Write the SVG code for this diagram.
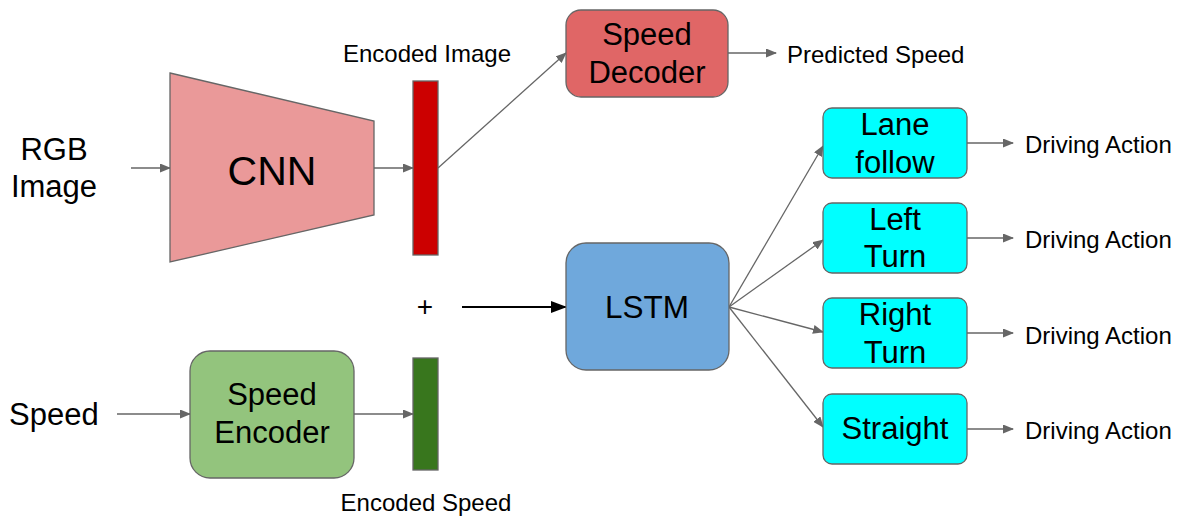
<svg xmlns="http://www.w3.org/2000/svg" width="1185" height="518" viewBox="0 0 1185 518">
<style>
text{font-family:"Liberation Sans",Arial,sans-serif;fill:#000}
.big{font-size:31px;text-anchor:middle}
.lbl{font-size:24px}
.box{stroke:#666;stroke-width:1.3}
.c{fill:none;stroke:#666;stroke-width:1.3}
.cyan{fill:#00ffff}
</style>
<defs>
<marker id="ah" markerWidth="11" markerHeight="9" refX="10" refY="4.5" orient="auto" markerUnits="userSpaceOnUse">
<path d="M0,0 L11,4.5 L0,9 Z" fill="#666"/>
</marker>
<marker id="ahb" markerWidth="16" markerHeight="12" refX="15" refY="6" orient="auto" markerUnits="userSpaceOnUse">
<path d="M0,0 L16,6 L0,12 Z" fill="#000"/>
</marker>
</defs>
<g id="connectors">
<line class="c" x1="131" y1="168" x2="170" y2="168" marker-end="url(#ah)"/>
<line class="c" x1="374" y1="168" x2="413" y2="168" marker-end="url(#ah)"/>
<line class="c" x1="438" y1="168" x2="566" y2="53" marker-end="url(#ah)"/>
<line class="c" x1="728" y1="53" x2="776" y2="53" marker-end="url(#ah)"/>
<line class="c" x1="117" y1="414" x2="190" y2="414" marker-end="url(#ah)"/>
<line class="c" x1="354" y1="414" x2="413" y2="414" marker-end="url(#ah)"/>
<line x1="462" y1="307" x2="566" y2="307" stroke="#000" stroke-width="2" marker-end="url(#ahb)"/>
<line class="c" x1="729" y1="307" x2="823" y2="146" marker-end="url(#ah)"/>
<line class="c" x1="729" y1="307" x2="823" y2="240" marker-end="url(#ah)"/>
<line class="c" x1="729" y1="307" x2="823" y2="332" marker-end="url(#ah)"/>
<line class="c" x1="729" y1="307" x2="823" y2="427" marker-end="url(#ah)"/>
<line class="c" x1="967" y1="143" x2="1013" y2="143" marker-end="url(#ah)"/>
<line class="c" x1="967" y1="238" x2="1013" y2="238" marker-end="url(#ah)"/>
<line class="c" x1="967" y1="333" x2="1013" y2="333" marker-end="url(#ah)"/>
<line class="c" x1="967" y1="429" x2="1013" y2="429" marker-end="url(#ah)"/>
</g>
<g id="rgb-image">
<text class="big" x="54" y="160">RGB</text>
<text class="big" x="54" y="197">Image</text>
</g>
<g id="cnn">
<polygon class="box" points="170,73 374,121 374,215 170,262" fill="#ea9999"/>
<text x="272" y="185" font-size="41" text-anchor="middle">CNN</text>
</g>
<g id="encoded-image">
<rect class="box" x="413" y="81" width="25" height="174" fill="#cc0000"/>
<text class="lbl" x="427" y="62" text-anchor="middle">Encoded Image</text>
</g>
<g id="speed-decoder">
<rect class="box" x="566" y="10" width="162" height="87" rx="15" fill="#e06666"/>
<text class="big" x="647" y="45">Speed</text>
<text class="big" x="647" y="83">Decoder</text>
</g>
<g id="predicted-speed">
<text class="lbl" x="787" y="63">Predicted Speed</text>
</g>
<g id="plus">
<text x="425" y="316" font-size="28" text-anchor="middle">+</text>
</g>
<g id="lstm">
<rect class="box" x="566" y="243" width="163" height="127" rx="20" fill="#6fa8dc"/>
<text x="647" y="318" font-size="31.5" text-anchor="middle">LSTM</text>
</g>
<g id="lane-follow">
<rect class="box cyan" x="823" y="108" width="144" height="70" rx="9"/>
<text class="big" x="895" y="135">Lane</text>
<text class="big" x="895" y="173">follow</text>
</g>
<g id="left-turn">
<rect class="box cyan" x="823" y="203" width="144" height="70" rx="9"/>
<text class="big" x="895" y="230">Left</text>
<text class="big" x="895" y="267">Turn</text>
</g>
<g id="right-turn">
<rect class="box cyan" x="823" y="298" width="144" height="70" rx="9"/>
<text class="big" x="895" y="325">Right</text>
<text class="big" x="895" y="363">Turn</text>
</g>
<g id="straight">
<rect class="box cyan" x="823" y="394" width="144" height="70" rx="9"/>
<text class="big" x="895" y="439">Straight</text>
</g>
<g id="actions">
<text class="lbl" x="1025" y="153">Driving Action</text>
<text class="lbl" x="1025" y="248">Driving Action</text>
<text class="lbl" x="1025" y="344">Driving Action</text>
<text class="lbl" x="1025" y="439">Driving Action</text>
</g>
<g id="speed">
<text x="9" y="425" font-size="31">Speed</text>
</g>
<g id="speed-encoder">
<rect class="box" x="190" y="351" width="164" height="127" rx="20" fill="#93c47d"/>
<text class="big" x="272" y="405">Speed</text>
<text class="big" x="272" y="443">Encoder</text>
</g>
<g id="encoded-speed">
<rect class="box" x="413" y="358" width="25" height="112" fill="#38761d"/>
<text class="lbl" x="426" y="511" text-anchor="middle">Encoded Speed</text>
</g>
</svg>
